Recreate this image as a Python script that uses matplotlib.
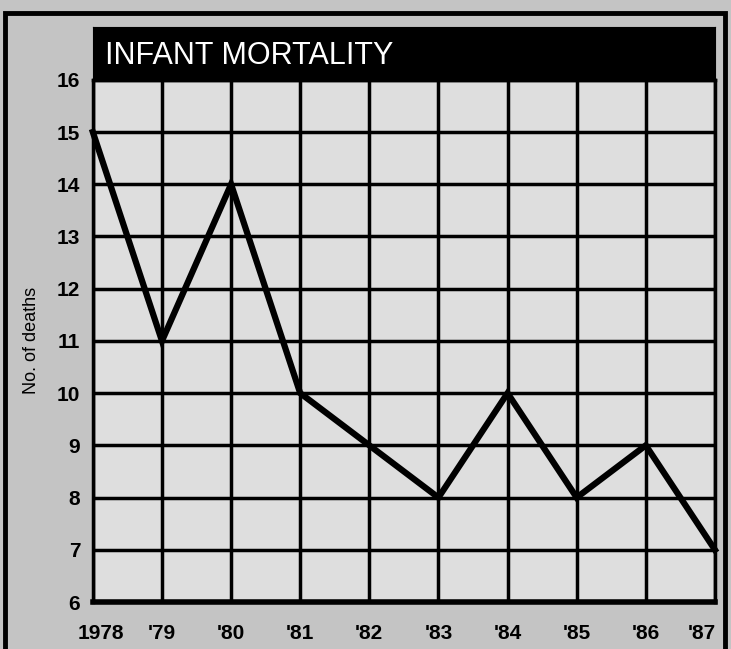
import matplotlib
matplotlib.use("Agg")
import matplotlib.pyplot as plt
from matplotlib.patches import Rectangle
import matplotlib.transforms as mtransforms

years = [1978, 1979, 1980, 1981, 1982, 1983, 1984, 1985, 1986, 1987]
year_labels = ["1978", "'79", "'80", "'81", "'82", "'83", "'84", "'85", "'86", "'87"]
deaths = [15, 11, 14, 10, 9, 8, 10, 8, 9, 7]
y_ticks = list(range(6, 17))
title = "INFANT MORTALITY"
ylabel = "No. of deaths"

narrow = ['Liberation Sans Narrow', 'Liberation Sans', 'DejaVu Sans']
plt.rcParams['font.family'] = ['Liberation Sans', 'DejaVu Sans']

fig = plt.figure(figsize=(7.31, 6.49), dpi=100)
fig.patch.set_facecolor('#c4c4c4')

# outer frame
fig.add_artist(Rectangle((0.007, -0.02), 0.985, 1.0, transform=fig.transFigure,
                         fill=False, edgecolor='black', linewidth=3.5))

ax = fig.add_axes([0.127, 0.0724, 0.851, 0.8046])
ax.set_facecolor('#dedede')
ax.set_xlim(years[0], years[-1])
ax.set_ylim(6, 16)
ax.set_xticks(years)
ax.set_xticklabels(year_labels, fontsize=15, fontweight='bold', family=narrow)
ax.set_yticks(y_ticks)
ax.set_yticklabels([str(v) for v in y_ticks], fontsize=15, fontweight='bold', family=narrow)
ax.tick_params(length=0, pad=9)
ax.tick_params(axis='x', pad=16)
ax.grid(True, color='black', linewidth=2.5)
ax.set_axisbelow(True)
for s in ax.spines.values():
    s.set_linewidth(2.5)
ax.spines['bottom'].set_linewidth(4)
ax.plot(years, deaths, color='black', linewidth=4.5, solid_joinstyle='miter', zorder=3, clip_on=False)
ax.set_ylabel(ylabel, fontsize=13, labelpad=12, family=narrow)

labels = ax.get_xticklabels()
labels[0].set_transform(labels[0].get_transform() + mtransforms.ScaledTranslation(0.08, 0, fig.dpi_scale_trans))
labels[-1].set_transform(labels[-1].get_transform() + mtransforms.ScaledTranslation(-0.13, 0, fig.dpi_scale_trans))

# title box
tax = fig.add_axes([0.127, 0.877, 0.851, 0.081])
tax.set_facecolor('black')
tax.set_xticks([]); tax.set_yticks([])
for s in tax.spines.values():
    s.set_color('black')
tax.text(0.02, 0.45, title, color='white', fontsize=22, va='center', ha='left',
         transform=tax.transAxes, family=narrow)

fig.savefig('out.png', dpi=100, facecolor=fig.get_facecolor())
